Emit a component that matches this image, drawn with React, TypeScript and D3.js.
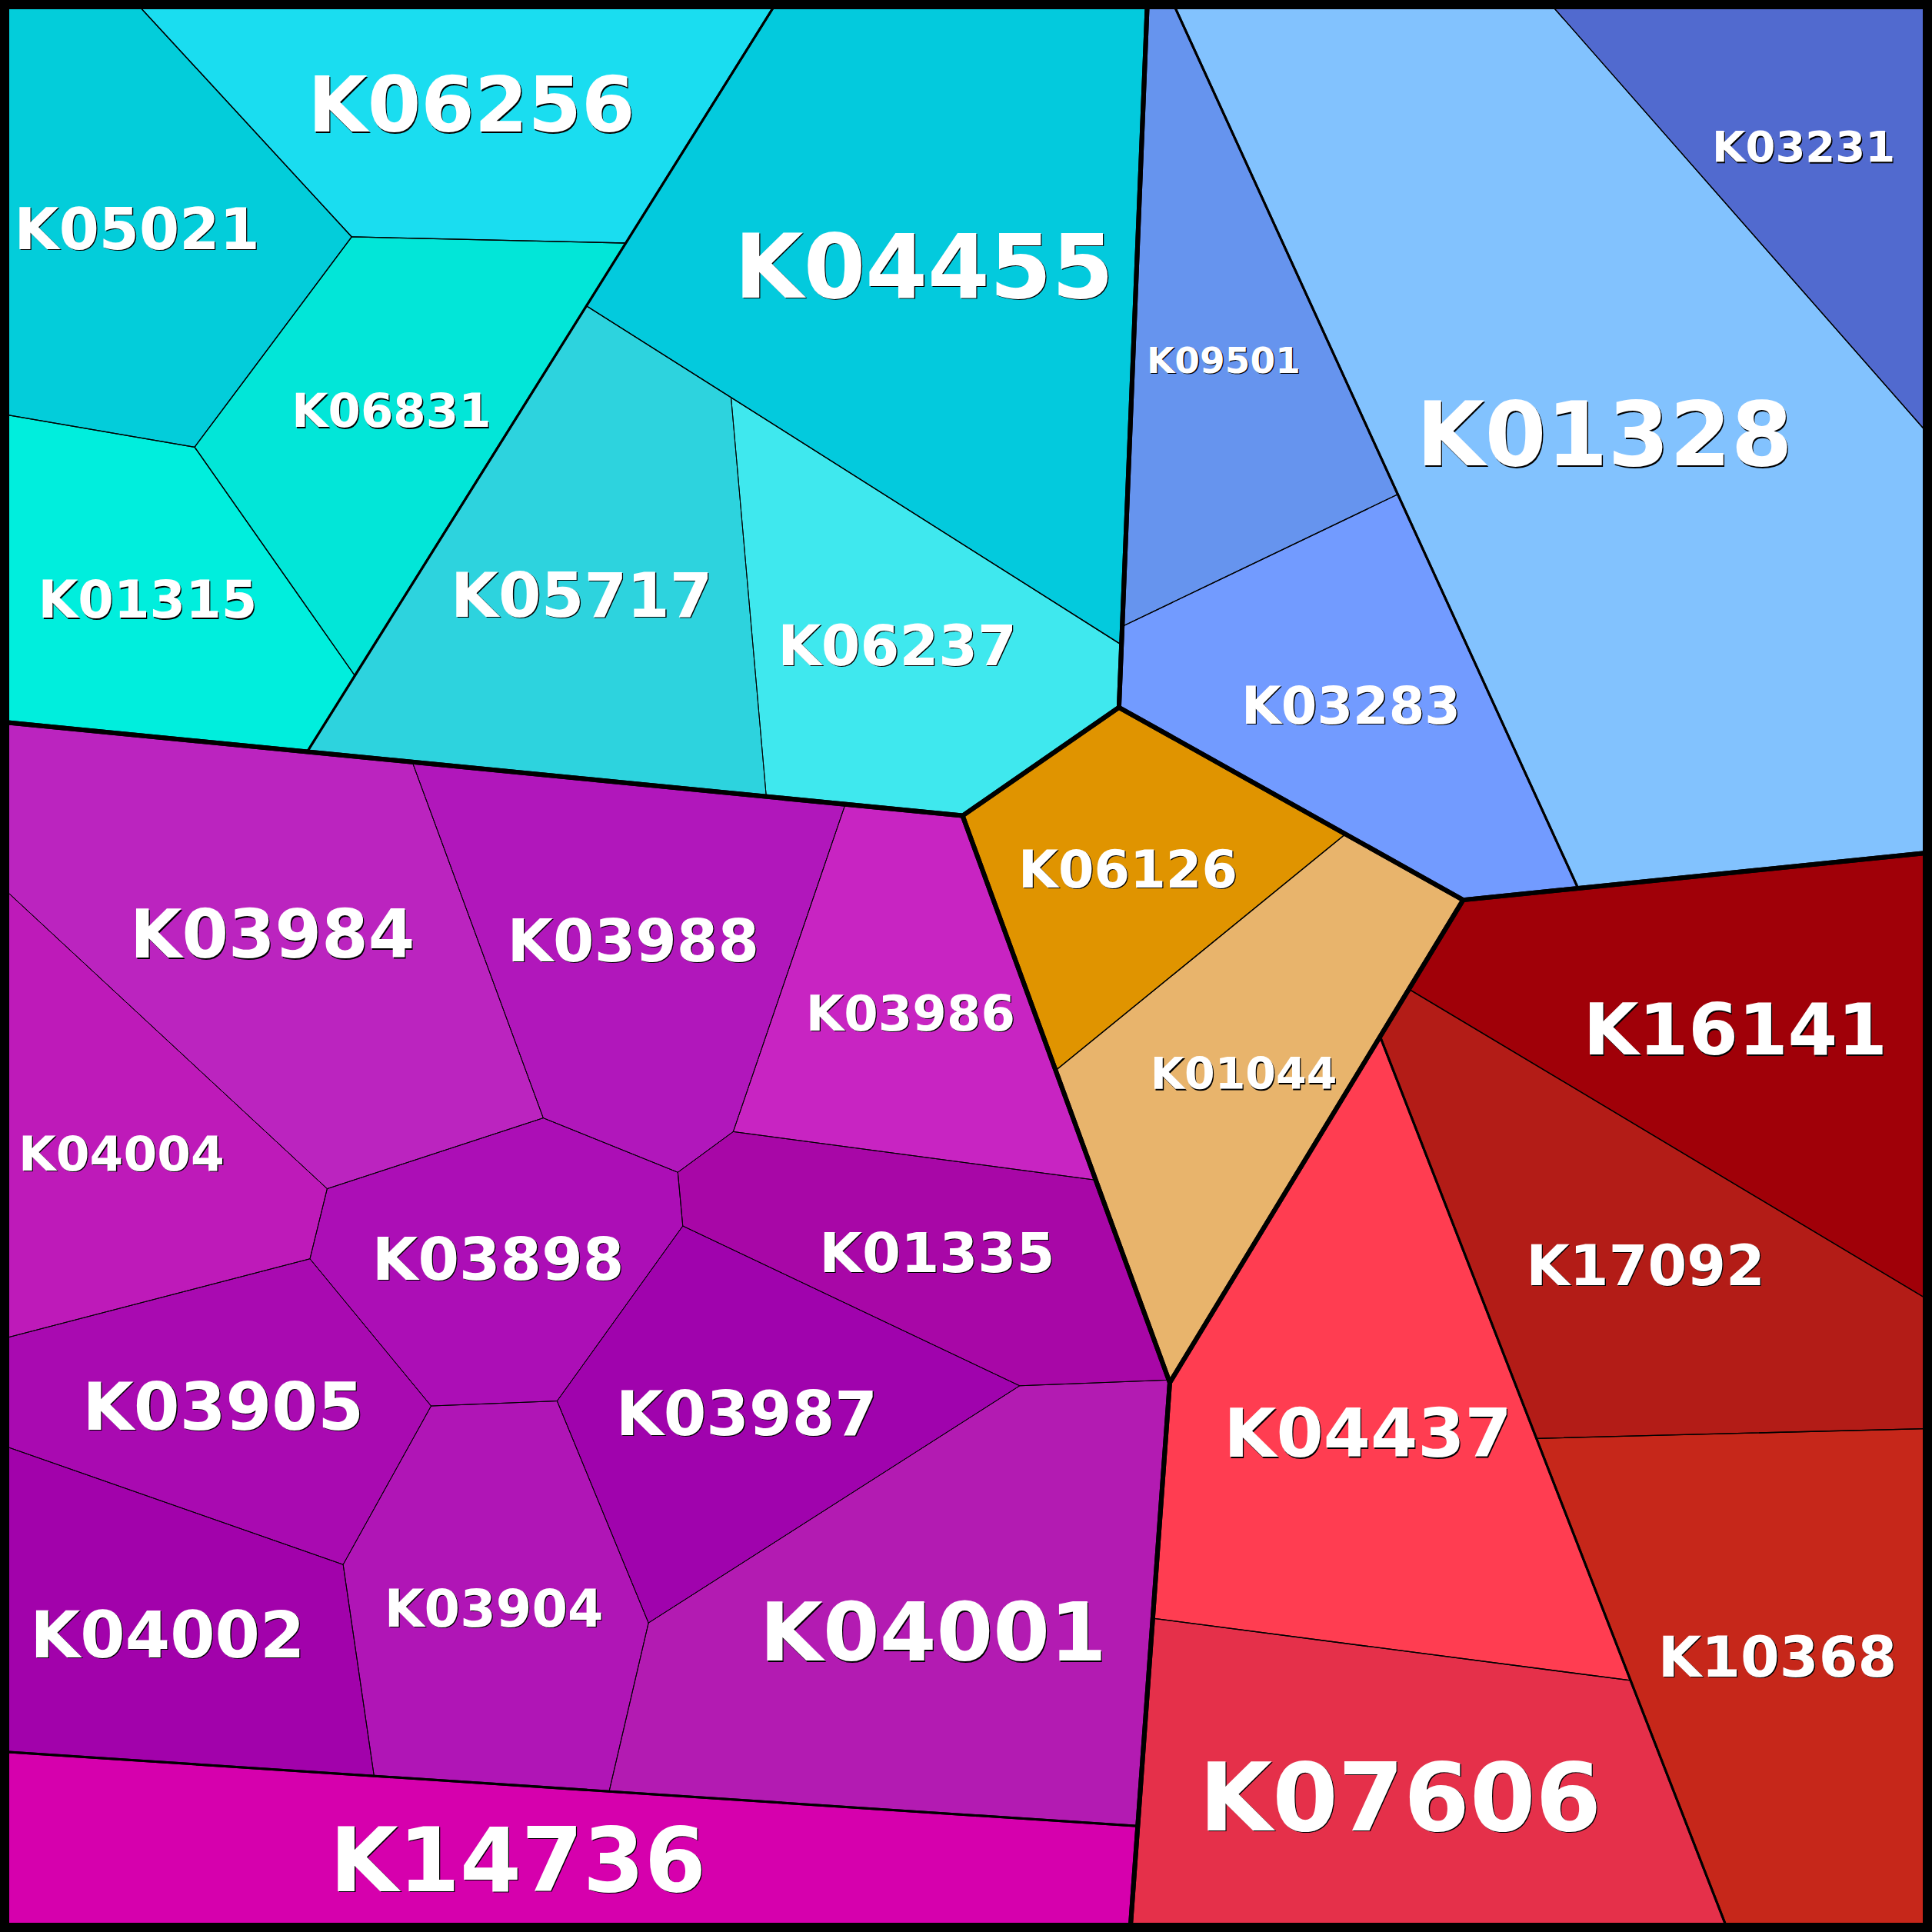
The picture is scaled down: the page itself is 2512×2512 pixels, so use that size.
import React, { useMemo } from 'react';
import * as d3 from 'd3';

const SIZE = 2512;

// KEGG orthologs: id, place in the hierarchy, value
const koIds = [
  'K06256', 'K05021', 'K06831', 'K01315', 'K04455', 'K05717', 'K06237',
  'K09501', 'K03283', 'K01328', 'K03231',
  'K06126', 'K01044',
  'K03984', 'K03988', 'K03986', 'K04004', 'K03898', 'K01335', 'K03905', 'K03987', 'K04002', 'K03904', 'K04001',
  'K14736',
  'K16141', 'K17092', 'K10368', 'K04437', 'K07606',
];
const koPaths = [
  'cyan/left', 'cyan/left', 'cyan/left', 'cyan/left', 'cyan/right', 'cyan/right/pair', 'cyan/right/pair',
  'blue/a', 'blue/a', 'blue/b', 'blue/b',
  'orange/a', 'orange/a',
  'purple/main/core', 'purple/main/core', 'purple/main/core', 'purple/main/core', 'purple/main/core', 'purple/main/core',
  'purple/main/core', 'purple/main/core', 'purple/main/core', 'purple/main/core', 'purple/main/core',
  'purple/b',
  'red/b', 'red/b', 'red/b', 'red/a', 'red/a',
];
const koValues = [
  71.8, 72.8, 61.9, 56.5, 152.2, 88.6, 63.0,
  59.1, 64.0, 263.6, 55.0,
  45.7, 63.1,
  104.0, 72.0, 53.9, 55.1, 47.6, 49.4, 54.0, 59.7, 59.9, 60.3, 113.7,
  106.0,
  89.5, 86.1, 97.7, 109.5, 98.4,
];

// cell styles
const koFills = [
  '#1addf0', '#03cdda', '#02e6d8', '#00eedd', '#03cadd', '#2dd3de', '#3fe8ee',
  '#6694ee', '#729bff', '#82c2fe', '#516acf',
  '#e09400', '#e8b46c',
  '#bb24bf', '#b117bb', '#c824c2', '#be1ab9', '#ac0eb6', '#a807a7', '#a90ab1', '#a003ad', '#a202ab', '#b015b6', '#b31bb2',
  '#d600ad',
  '#a00008', '#b31c17', '#c6271a', '#ff3d51', '#e5304a',
];
const koLabelSize = [
  100, 75, 61, 67, 116, 80, 73,
  47, 67, 115, 56,
  67, 57,
  87, 77, 64, 63, 77, 72, 86, 80, 84, 67, 106,
  115,
  93, 73, 73, 88, 123,
];

// generator positions of the power diagram, in 1568-unit layout space
const seedKeys = [
  'cyan', 'blue', 'orange', 'purple', 'red',
  'cyan/left', 'cyan/right', 'cyan/right/pair', 'blue/a', 'blue/b', 'orange/a',
  'purple/main', 'purple/b', 'purple/main/core', 'red/a', 'red/b',
  ...koIds,
];
const seedX = [
  502.8, 1228.2, 913.1, 427.7, 1309.8,
  260.1, 626.7, 567.4, 1041.1, 1342.3, 955,
  448.5, 418.9, 448.5, 1067.7, 1426.1,
  332.8, 156.9, 326.3, 108.9, 736.0, 474.0, 737.0,
  974.1, 1099.9, 1288.1, 1498.9,
  903.4, 1023.6,
  295.8, 503.2, 740.7, 127.9, 374.9, 713.3, 184.5, 616.2, 132.5, 385.5, 728.0,
  420,
  1458.6, 1360, 1367.6, 1127.2, 1094.8,
];
const seedY = [
  305.7, 334.9, 898.0, 1075.4, 1139.1,
  202.1, 431.7, 508.1, 449.5, 311.7, 795,
  1053.2, 1504.8, 1053.2, 1263.4, 1124.0,
  51.3, 213.4, 340.0, 492.4, 241.9, 530.6, 507.4,
  306.8, 569.2, 329.1, 143.9,
  714.3, 861.7,
  868.7, 792.4, 873.7, 1049.6, 1110.3, 1078.9, 1267.1, 1283.6, 1415.6, 1378.6, 1458.6,
  1505,
  859.2, 1024, 1323.8, 1206.5, 1455.5,
];

const borderWidths = [24, 6, 3, 1.3, 1];

type Vtx = { x: number; y: number; e: number };
type TNode = { key: string; children?: TNode[]; leaf?: number };

const seedScale = d3.scaleLinear().domain([0, 1568]).range([0, SIZE]);

function clipHalf(poly: Vtx[], a: number, b: number, c: number, label: number): Vtx[] {
  const out: Vtx[] = [];
  const n = poly.length;
  for (let k = 0; k < n; k++) {
    const p = poly[k];
    const q = poly[(k + 1) % n];
    const fp = a * p.x + b * p.y - c;
    const fq = a * q.x + b * q.y - c;
    if (fp <= 0) {
      out.push(p);
      if (fq > 0) {
        const t = fp / (fp - fq);
        out.push({ x: p.x + t * (q.x - p.x), y: p.y + t * (q.y - p.y), e: label });
      }
    } else if (fq <= 0) {
      const t = fp / (fp - fq);
      out.push({ x: p.x + t * (q.x - p.x), y: p.y + t * (q.y - p.y), e: p.e });
    }
  }
  return out;
}

function powerCells(sites: number[][], w: number[], boundary: number[][]): Vtx[][] {
  return sites.map((pi, i) => {
    let poly: Vtx[] = boundary.map(([x, y]) => ({ x, y, e: -1 }));
    for (let j = 0; j < sites.length && poly.length; j++) {
      if (j === i) continue;
      const pj = sites[j];
      const a = 2 * (pj[0] - pi[0]);
      const b = 2 * (pj[1] - pi[1]);
      const c = pj[0] ** 2 + pj[1] ** 2 - w[j] - (pi[0] ** 2 + pi[1] ** 2 - w[i]);
      poly = clipHalf(poly, a, b, c, j);
    }
    return poly;
  });
}

const cellArea = (cell: Vtx[]) =>
  cell.length < 3 ? 0 : Math.abs(d3.polygonArea(cell.map((v) => [v.x, v.y] as [number, number])));

// adjust the weights until every cell has its target area
function fitCells(sites: number[][], targets: number[], boundary: number[][]) {
  const n = sites.length;
  const w = new Array(n).fill(0);
  let cells = powerCells(sites, w, boundary);
  for (let it = 0; it < 1500; it++) {
    let worst = 0;
    const dw = cells.map((cell, i) => {
      const area = cellArea(cell);
      worst = Math.max(worst, Math.abs(targets[i] - area) / targets[i]);
      let s = 0;
      cell.forEach((v, k) => {
        if (v.e < 0) return;
        const nx = cell[(k + 1) % cell.length];
        const len = Math.hypot(nx.x - v.x, nx.y - v.y);
        const d = Math.hypot(sites[v.e][0] - sites[i][0], sites[v.e][1] - sites[i][1]);
        s += len / (2 * d);
      });
      if (s > 1e-9) return (targets[i] - area) / s;
      let near = Infinity;
      sites.forEach((p, j) => {
        if (j !== i) near = Math.min(near, Math.hypot(p[0] - sites[i][0], p[1] - sites[i][1]));
      });
      return area < targets[i] ? 0.1 * near * near : 0;
    });
    if (worst < 1e-5) break;
    dw.forEach((d, i) => (w[i] += 0.5 * d));
    cells = powerCells(sites, w, boundary);
  }
  return cells;
}

function buildTree(): TNode {
  const root: TNode = { key: '', children: [] };
  koIds.forEach((id, i) => {
    let node = root;
    for (const part of koPaths[i].split('/')) {
      const key = node.key ? node.key + '/' + part : part;
      let child = node.children!.find((c) => c.key === key);
      if (!child) {
        child = { key, children: [] };
        node.children!.push(child);
      }
      node = child;
    }
    node.children!.push({ key: id, leaf: i });
  });
  return root;
}

const seedOf = (key: string) => {
  const i = seedKeys.indexOf(key);
  return [seedScale(seedX[i]), seedScale(seedY[i])];
};

function layout(node: any, polygon: number[][]) {
  node.polygon = polygon;
  const kids = node.children;
  if (!kids) return;
  if (kids.length === 1) {
    layout(kids[0], polygon);
    return;
  }
  const total = Math.abs(d3.polygonArea(polygon as [number, number][]));
  const sites = kids.map((k: any) => seedOf(k.data.key));
  const targets = kids.map((k: any) => (k.value / node.value) * total);
  const cells = fitCells(sites, targets, polygon);
  kids.forEach((k: any, i: number) => layout(k, cells[i].map((v) => [v.x, v.y])));
}

const toPath = (poly: number[][]) => 'M' + poly.map((p) => p[0].toFixed(2) + ',' + p[1].toFixed(2)).join('L') + 'Z';

export default function App() {
  const { leaves, borders, rootPoly } = useMemo(() => {
    const root = d3
      .hierarchy<TNode>(buildTree())
      .sum((d) => (d.leaf !== undefined ? koValues[d.leaf] : 0));
    const rootPoly = [
      [0, 0],
      [SIZE, 0],
      [SIZE, SIZE],
      [0, SIZE],
    ];
    layout(root, rootPoly);
    const nodes = root.descendants().filter((d) => d.depth > 0);
    const borders = nodes
      .filter((d) => !(d.parent && d.parent.children!.length === 1))
      .sort((a, b) => b.depth - a.depth);
    return { leaves: root.leaves(), borders, rootPoly };
  }, []);

  return (
    <svg
      width={SIZE}
      height={SIZE}
      viewBox={`0 0 ${SIZE} ${SIZE}`}
      style={{ position: 'absolute', left: 0, top: 0, background: '#fff' }}
    >
      <g>
        {leaves.map((d: any) => (
          <path key={d.data.key} d={toPath(d.polygon)} fill={koFills[d.data.leaf]} stroke={koFills[d.data.leaf]} strokeWidth={0.5} />
        ))}
      </g>
      <g fill="none" stroke="#000" strokeLinejoin="round">
        {borders.map((d: any) => (
          <path key={'b' + d.data.key} d={toPath(d.polygon)} strokeWidth={borderWidths[Math.min(d.depth, 4)]} />
        ))}
        <path d={toPath(rootPoly)} strokeWidth={borderWidths[0]} />
      </g>
      <g fontFamily="'DejaVu Sans', sans-serif" fontWeight="bold" textAnchor="middle">
        {leaves.map((d: any) => {
          const [cx, cy] = d3.polygonCentroid(d.polygon);
          const fs = koLabelSize[d.data.leaf];
          const y = cy + fs * 0.3645;
          return (
            <g key={'t' + d.data.key} fontSize={fs}>
              <text x={cx + 1.3} y={y + 1.3} fill="#000">
                {d.data.key}
              </text>
              <text x={cx} y={y} fill="#fff">
                {d.data.key}
              </text>
            </g>
          );
        })}
      </g>
    </svg>
  );
}
